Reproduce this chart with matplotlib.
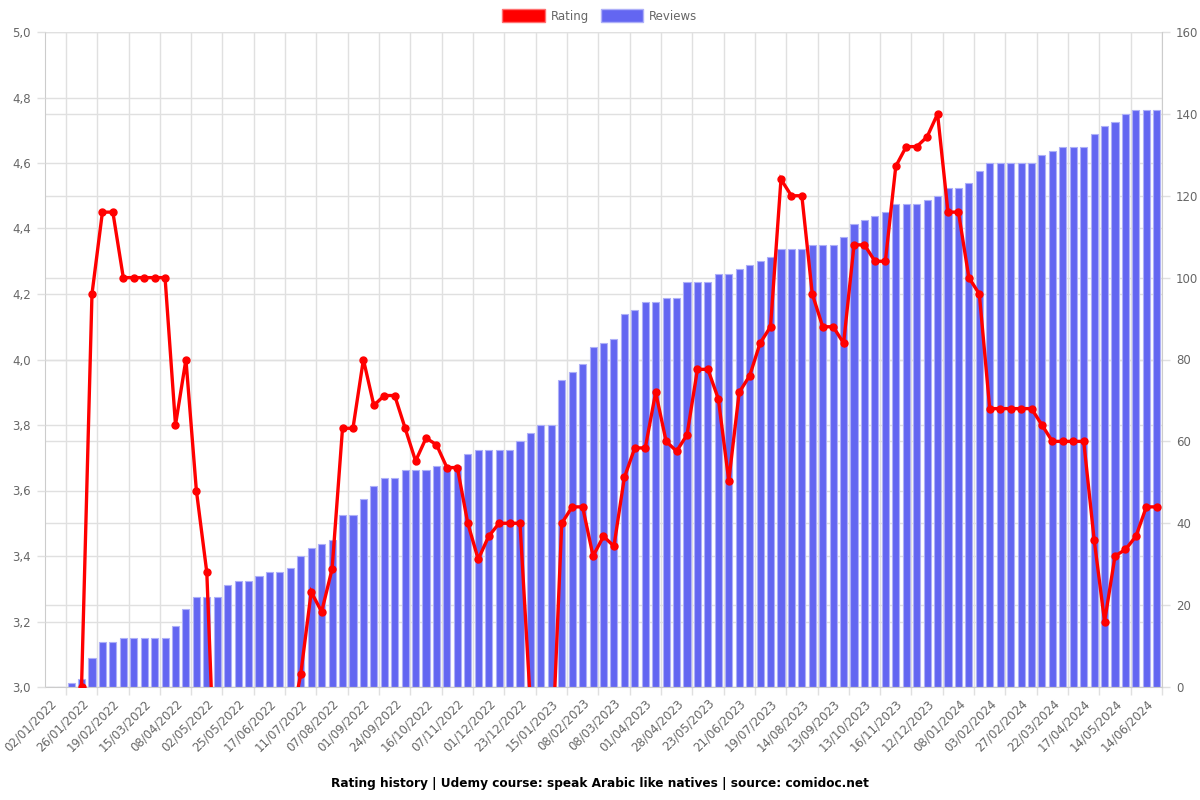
import numpy as np
import matplotlib
matplotlib.use('Agg')
import matplotlib.pyplot as plt
from matplotlib.patches import Patch
from matplotlib.ticker import FuncFormatter
from matplotlib import transforms

# tick labels, one every 3rd category
tick_labels = ["02/01/2022", "26/01/2022", "19/02/2022", "15/03/2022", "08/04/2022",
               "02/05/2022", "25/05/2022", "17/06/2022", "11/07/2022", "07/08/2022",
               "01/09/2022", "24/09/2022", "16/10/2022", "07/11/2022", "01/12/2022",
               "23/12/2022", "15/01/2023", "08/02/2023", "08/03/2023", "01/04/2023",
               "28/04/2023", "23/05/2023", "21/06/2023", "19/07/2023", "14/08/2023",
               "13/09/2023", "13/10/2023", "16/11/2023", "12/12/2023", "08/01/2024",
               "03/02/2024", "27/02/2024", "22/03/2024", "17/04/2024", "14/05/2024",
               "14/06/2024"]

reviews = [0, 0, 1, 2, 7, 11, 11, 12, 12, 12,
           12, 12, 15, 19, 22, 22, 22, 25, 26, 26,
           27, 28, 28, 29, 32, 34, 35, 36, 42, 42,
           46, 49, 51, 51, 53, 53, 53, 54, 54, 54,
           57, 58, 58, 58, 58, 60, 62, 64, 64, 75,
           77, 79, 83, 84, 85, 91, 92, 94, 94, 95,
           95, 99, 99, 99, 101, 101, 102, 103, 104, 105,
           107, 107, 107, 108, 108, 108, 110, 113, 114, 115,
           116, 118, 118, 118, 119, 120, 122, 122, 123, 126,
           128, 128, 128, 128, 128, 130, 131, 132, 132, 132,
           135, 137, 138, 140, 141, 141, 141]

nan = float('nan')
rating = [nan, nan, nan, 3.00, 4.20, 4.45, 4.45, 4.25, 4.25, 4.25,
          4.25, 4.25, 3.80, 4.00, 3.60, 3.35, 2.52, 2.50, 2.60, 2.67,
          2.70, 2.75, 2.80, 2.87, 3.04, 3.29, 3.23, 3.36, 3.79, 3.79,
          4.00, 3.86, 3.89, 3.89, 3.79, 3.69, 3.76, 3.74, 3.67, 3.67,
          3.50, 3.39, 3.46, 3.50, 3.50, 3.50, 2.95, 2.85, 2.74, 3.50,
          3.55, 3.55, 3.40, 3.46, 3.43, 3.64, 3.73, 3.73, 3.90, 3.75,
          3.72, 3.77, 3.97, 3.97, 3.88, 3.63, 3.90, 3.95, 4.05, 4.10,
          4.55, 4.50, 4.50, 4.20, 4.10, 4.10, 4.05, 4.35, 4.35, 4.30,
          4.30, 4.59, 4.65, 4.65, 4.68, 4.75, 4.45, 4.45, 4.25, 4.20,
          3.85, 3.85, 3.85, 3.85, 3.85, 3.80, 3.75, 3.75, 3.75, 3.75,
          3.45, 3.20, 3.40, 3.42, 3.46, 3.55, 3.55]

rating_ticks = [3.0, 3.2, 3.4, 3.6, 3.8, 4.0, 4.2, 4.4, 4.6, 4.8, 5.0]
review_ticks = [0, 20, 40, 60, 80, 100, 120, 140, 160]

grid_c = '#e0e0e0'
text_c = '#666666'
bar_c = '#6366f1'
fs = 8.5

fig = plt.figure(figsize=(12, 8), dpi=100)
ax = fig.add_axes([45 / 1200, 1 - 687 / 800, (1162 - 45) / 1200, (687 - 32) / 800])
n = len(reviews)
x = np.arange(n)

# bars (reviews, right axis)
ax.bar(x, reviews, width=0.68, color=bar_c, edgecolor='#aeb0f8', linewidth=0.8, zorder=2)
ax.set_xlim(-0.5, n - 0.5)
ax.set_ylim(0, 160)
ax.set_yticks(review_ticks)
ax.set_axisbelow(True)

# x ticks: labels at every 3rd category, grid lines between
ax.set_xticks(x[::3])
ax.set_xticklabels(tick_labels, rotation=45, ha='right', rotation_mode='anchor')
ax.set_xticks(np.arange(1.5, n, 3), minor=True)
ax.tick_params(axis='x', which='major', length=0, pad=7, labelsize=fs, labelcolor=text_c)
ax.tick_params(axis='x', which='minor', length=6, color=grid_c, width=1)
ax.grid(which='minor', axis='x', color=grid_c, lw=1)
ax.grid(which='major', axis='y', color=grid_c, lw=1)

for s in ['left', 'right', 'bottom']:
    ax.spines[s].set_color('#cccccc')
ax.spines['top'].set_visible(False)

# rating line (left axis)
ax2 = ax.twinx()
ax2.plot(x, rating, color='#ff0000', lw=2.4, marker='o', ms=5,
         solid_joinstyle='miter', zorder=3)
ax2.set_ylim(3, 5)
ax2.set_yticks(rating_ticks)
ax2.yaxis.set_major_formatter(FuncFormatter(lambda v, p: f"{v:.1f}".replace('.', ',')))
for s in ax2.spines.values():
    s.set_visible(False)

# swap sides: reviews on the right, rating on the left
ax.yaxis.tick_right()
ax.yaxis.set_label_position('right')
ax2.yaxis.tick_left()
ax2.yaxis.set_label_position('left')
ax.tick_params(axis='y', length=6, color=grid_c, width=1, pad=4, labelsize=fs, labelcolor=text_c)
ax2.tick_params(axis='y', length=6, color=grid_c, width=1, pad=4, labelsize=fs, labelcolor=text_c)

# rating grid drawn under the bars
tr = transforms.blended_transform_factory(ax.transAxes, ax2.transData)
ax.hlines(rating_ticks, 0, 1, transform=tr, color=grid_c, lw=1, zorder=0.5)

handles = [Patch(facecolor='#ff0000', edgecolor='#ff7070'),
           Patch(facecolor=bar_c, edgecolor='#aeb0f8')]
fig.legend(handles, ['Rating', 'Reviews'], loc='center', bbox_to_anchor=(0.5, 1 - 16 / 800),
           ncol=2, frameon=False, handlelength=3.6, handleheight=1.2, handletextpad=0.5,
           columnspacing=1.0, fontsize=fs, labelcolor=text_c)

fig.text(0.5, 1 - 783 / 800,
         'Rating history | Udemy course: speak Arabic like natives | source: comidoc.net',
         ha='center', va='center', fontsize=8.7, fontweight='bold')

fig.savefig('out.png', dpi=100)
